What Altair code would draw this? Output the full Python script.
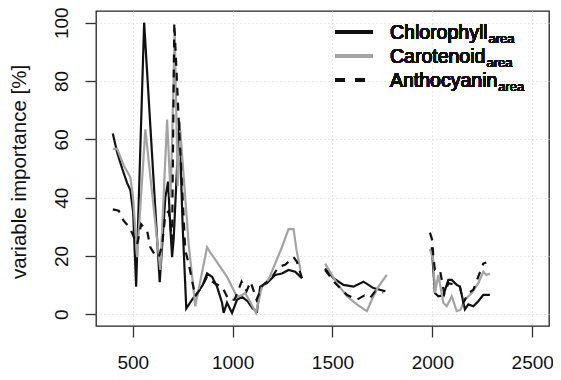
import altair as alt
import pandas as pd

# ---- data (wavelength, variable importance %) ----
chl_x1 = [400, 422, 447, 472, 488, 502, 517, 557, 635, 663, 677, 688, 697, 705, 718, 733, 750, 768, 797, 822, 850, 872, 897, 922, 947, 955, 972, 997, 1022, 1047, 1075, 1100, 1122, 1138, 1172, 1213, 1247, 1280, 1313, 1347]
chl_y1 = [62, 55.5, 50, 45, 42.6, 35, 9.5, 100, 11, 40, 45.5, 30, 19.6, 26, 45, 66, 30, 2, 5, 7.3, 10, 14, 12.9, 9.5, 4, 0.5, 4, 0.5, 5, 6, 4.5, 2, 1, 9.5, 10.7, 13.5, 14, 15.2, 14.6, 12.4]
chl_x2 = [1463, 1505, 1555, 1605, 1655, 1705, 1765]
chl_y2 = [15.7, 12.4, 10.1, 9.5, 11.2, 9, 7.9]
chl_x3 = [1997, 2013, 2030, 2055, 2080, 2097, 2122, 2138, 2163, 2180, 2205, 2230, 2255, 2288]
chl_y3 = [23, 7.3, 6.2, 6.5, 11.8, 11.8, 10.1, 9.5, 1.7, 3.4, 2.8, 4.5, 6.7, 6.7]

car_x1 = [400, 422, 455, 488, 502, 522, 563, 638, 672, 690, 710, 725, 738, 780, 813, 840, 872, 890, 905, 938, 972, 1022, 1045, 1063, 1090, 1117, 1147, 1180, 1213, 1247, 1280, 1305, 1320, 1340]
car_y1 = [56.7, 56.7, 51, 47, 39.8, 19.6, 63.4, 15.2, 66.8, 40, 97, 44, 63, 24, 2.8, 12, 23, 21, 19.6, 16.3, 12.9, 6, 6.5, 7.3, 4, 0.5, 9.5, 12, 17.4, 23, 29.2, 29.2, 22, 15.2]
car_x2 = [1463, 1522, 1572, 1622, 1672, 1697, 1730, 1772]
car_y2 = [17.4, 10.7, 6.2, 3.4, 1.1, 5, 9.5, 13.5]
car_x3 = [1988, 2005, 2013, 2030, 2055, 2072, 2097, 2122, 2140, 2163, 2197, 2230, 2255, 2270, 2288]
car_y3 = [22.4, 18.5, 7.3, 13.5, 4, 2.8, 6.2, 1.1, 1.5, 5, 7.3, 10.7, 14.6, 13.5, 14]

ant_x1 = [400, 430, 455, 485, 513, 522, 542, 572, 588, 613, 630, 647, 663, 680, 697, 708, 730, 763, 780, 813, 847, 872, 888, 913, 947, 980, 1010, 1045, 1070, 1090, 1120, 1150, 1190, 1230, 1263, 1305, 1322, 1347]
ant_y1 = [36, 35.5, 32, 29.7, 25.3, 24, 30.9, 28.6, 23, 20.2, 19.6, 23.6, 34.2, 35.4, 25.3, 100, 66.8, 22, 17.4, 6.2, 9.5, 13, 11.8, 10.5, 9.5, 5, 5, 11.2, 8, 11.2, 5, 10, 12, 16.3, 17, 19.6, 18, 12.4]
ant_x2 = [1463, 1513, 1572, 1622, 1660, 1688, 1713, 1755]
ant_y2 = [15.2, 10.7, 6.7, 5, 6.5, 5.6, 7.9, 7.6]
ant_x3 = [1988, 2000, 2005, 2013, 2038, 2060, 2080, 2113, 2138, 2155, 2180, 2205, 2230, 2255, 2270]
ant_y3 = [28, 25.3, 19.6, 15.2, 15.2, 7, 10.7, 10.1, 9.5, 4, 7.3, 8.4, 12.9, 17.4, 17.8]

series_names = ["Chlorophyll", "Carotenoid", "Anthocyanin"]
x_ticks = [500, 1000, 1500, 2000, 2500]
y_ticks = [0, 20, 40, 60, 80, 100]

segments = [
    ("Chlorophyll", [(chl_x1, chl_y1), (chl_x2, chl_y2), (chl_x3, chl_y3)]),
    ("Carotenoid", [(car_x1, car_y1), (car_x2, car_y2), (car_x3, car_y3)]),
    ("Anthocyanin", [(ant_x1, ant_y1), (ant_x2, ant_y2), (ant_x3, ant_y3)]),
]
rows = []
for name, segs in segments:
    for i, (xs, ys) in enumerate(segs):
        for xv, yv in zip(xs, ys):
            rows.append({"wl": xv, "imp": yv, "series": name, "seg": f"{name}{i}"})
df = pd.DataFrame(rows)

W, H = 453, 315
BLACK = "#111111"
GRAY = "#a3a3a3"

xscale = alt.Scale(domain=[316, 2584], nice=False, zero=False)
yscale = alt.Scale(domain=[-4, 104], nice=False, zero=False)

xaxis = alt.Axis(values=x_ticks, title=None, grid=True, labelPadding=16, format="d")
yaxis = alt.Axis(values=y_ticks, title="variable importance [%]", grid=True, format="d",
                 labelAngle=-90, labelAlign="center", labelBaseline="middle",
                 labelPadding=24, titleAngle=-90, titleX=-77, titleY=H / 2 + 3,
                 titleBaseline="middle", titleAlign="center")

styles = {
    "Chlorophyll": dict(color=BLACK, strokeWidth=2.2),
    "Carotenoid": dict(color=GRAY, strokeWidth=2.2),
    "Anthocyanin": dict(color=BLACK, strokeWidth=2.2, strokeDash=[8, 7]),
}

layers = []
for name in series_names:
    layers.append(
        alt.Chart(df).transform_filter(alt.datum.series == name)
        .mark_line(**styles[name])
        .encode(
            x=alt.X("wl:Q", scale=xscale, axis=xaxis),
            y=alt.Y("imp:Q", scale=yscale, axis=yaxis),
            detail="seg:N",
        )
    )

# ---- manual legend (subscript labels) ----
leg_rows = [21, 45, 69]
leg_widths = [97.5, 95.4, 107.3]
for i, name in enumerate(series_names):
    st = styles[name]
    kw = dict(color=st["color"], strokeWidth=2.6)
    if "strokeDash" in st:
        kw["strokeDash"] = [10, 10]
    layers.append(
        alt.Chart(df).mark_rule(**kw).encode(
            x=alt.value(239), x2=alt.value(277), y=alt.value(leg_rows[i])
        )
    )
    layers.append(
        alt.Chart(df).mark_text(align="left", baseline="alphabetic", fontSize=19.5,
                                font="Liberation Sans", color=BLACK, text=name).encode(
            x=alt.value(294), y=alt.value(leg_rows[i] + 7)
        )
    )
    layers.append(
        alt.Chart(df).mark_text(align="left", baseline="alphabetic", fontSize=13,
                                font="Liberation Sans", color=BLACK, text="area").encode(
            x=alt.value(294 + leg_widths[i] + 1), y=alt.value(leg_rows[i] + 10.5)
        )
    )

chart = alt.layer(*layers).properties(
    width=W, height=H,
    background="white",
    autosize=alt.AutoSizeParams(type="none"),
    padding={"left": 88, "top": 3, "right": 4, "bottom": 49},
).configure_view(
    stroke="#222222", strokeWidth=1.3
).configure_axis(
    domain=False,
    gridColor="#cfcfcf", gridDash=[1, 3], gridWidth=1,
    tickColor="#333333", tickWidth=1.3, tickSize=11,
    labelFont="Liberation Sans", labelFontSize=19, labelColor=BLACK,
    titleFont="Liberation Sans", titleFontSize=20.5, titleFontWeight="normal", titleColor=BLACK,
)

chart.save("out.html", embed_options={"renderer": "svg", "actions": False})
